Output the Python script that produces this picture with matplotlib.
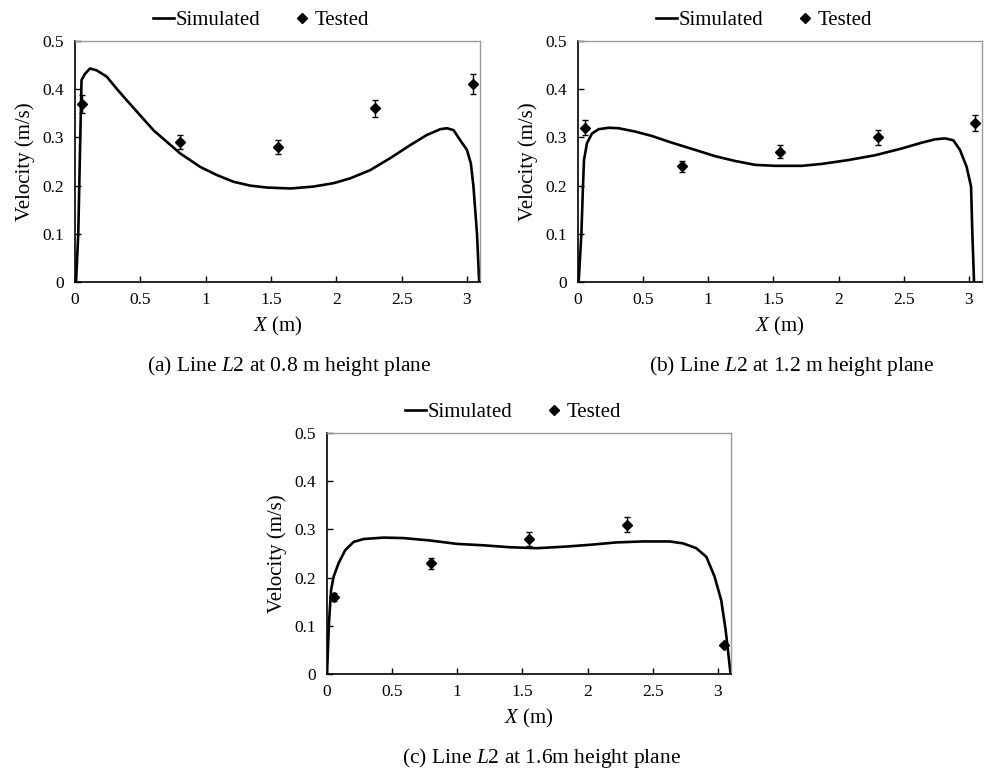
import matplotlib
matplotlib.use("Agg")
import matplotlib.pyplot as plt
from matplotlib.lines import Line2D

plt.rcParams["font.family"] = ["Liberation Serif", "DejaVu Serif"]
plt.rcParams["mathtext.fontset"] = "custom"
plt.rcParams["mathtext.rm"] = "Liberation Serif"
plt.rcParams["mathtext.it"] = "Liberation Serif:italic"

# Measurement positions along line L2 (m)
x_test = [0.05, 0.8, 1.55, 2.3, 3.05]

# 0.8 m height plane
sim_a_x = [0.0, 0.008, 0.025, 0.04, 0.05, 0.077, 0.115, 0.166, 0.243, 0.319, 0.396,
           0.498, 0.6, 0.702, 0.804, 0.957, 1.085, 1.213, 1.34, 1.468, 1.647, 1.825,
           1.979, 2.106, 2.259, 2.413, 2.566, 2.693, 2.796, 2.847, 2.898, 2.949, 3.0,
           3.03, 3.05, 3.077, 3.094]
sim_a_y = [0.0, 0.0, 0.101, 0.294, 0.419, 0.432, 0.443, 0.439, 0.426, 0.401, 0.377,
           0.346, 0.315, 0.291, 0.267, 0.239, 0.222, 0.208, 0.2, 0.196, 0.194, 0.198,
           0.205, 0.215, 0.232, 0.257, 0.284, 0.305, 0.317, 0.319, 0.315, 0.294, 0.274,
           0.246, 0.198, 0.1, 0.0]
test_a = [0.37, 0.29, 0.28, 0.36, 0.41]
err_a = [0.0185, 0.0145, 0.014, 0.018, 0.0205]

# 1.2 m height plane
sim_b_x = [0.0, 0.005, 0.026, 0.038, 0.046, 0.069, 0.107, 0.158, 0.235, 0.312, 0.44,
           0.567, 0.72, 0.9, 1.053, 1.206, 1.36, 1.513, 1.717, 1.871, 2.075, 2.28,
           2.484, 2.637, 2.74, 2.816, 2.88, 2.931, 2.982, 3.016, 3.026, 3.039]
sim_b_y = [0.0, 0.0, 0.1, 0.198, 0.253, 0.288, 0.308, 0.317, 0.32, 0.319, 0.312,
           0.303, 0.289, 0.274, 0.261, 0.251, 0.243, 0.241, 0.241, 0.245, 0.253, 0.263,
           0.277, 0.289, 0.296, 0.298, 0.294, 0.274, 0.239, 0.198, 0.1, 0.0]
test_b = [0.32, 0.24, 0.27, 0.30, 0.33]
err_b = [0.016, 0.012, 0.0135, 0.015, 0.0165]

# 1.6 m height plane
sim_c_x = [0.0, 0.015, 0.031, 0.051, 0.089, 0.14, 0.204, 0.281, 0.434, 0.587, 0.791,
           0.996, 1.2, 1.404, 1.608, 1.813, 2.017, 2.221, 2.425, 2.63, 2.732, 2.834,
           2.911, 2.974, 3.025, 3.059, 3.097]
sim_c_y = [0.0, 0.105, 0.174, 0.202, 0.23, 0.257, 0.274, 0.28, 0.283, 0.282, 0.277,
           0.27, 0.267, 0.263, 0.261, 0.264, 0.268, 0.273, 0.275, 0.275, 0.271, 0.261,
           0.243, 0.202, 0.153, 0.091, 0.0]
test_c = [0.16, 0.23, 0.28, 0.31, 0.06]
err_c = [0.008, 0.0115, 0.014, 0.0155, 0.003]

captions = ["(a) Line $\\mathit{L2}$ at 0.8 m height plane",
            "(b) Line $\\mathit{L2}$ at 1.2 m height plane",
            "(c) Line $\\mathit{L2}$ at 1.6m height plane"]
x_ticks = [0, 0.5, 1, 1.5, 2, 2.5, 3]
x_tick_labels = ["0", "0.5", "1", "1.5", "2", "2.5", "3"]
y_ticks = [0, 0.1, 0.2, 0.3, 0.4, 0.5]
y_tick_labels = ["0", "0.1", "0.2", "0.3", "0.4", "0.5"]

W, H = 984, 777
fig = plt.figure(figsize=(W / 100, H / 100), dpi=100)


def rect(left, top, right, bottom):
    return [left / W, 1 - bottom / H, (right - left) / W, (bottom - top) / H]


panels = [
    (rect(75, 41, 480, 282), sim_a_x, sim_a_y, test_a, err_a, captions[0]),
    (rect(578, 41, 982, 282), sim_b_x, sim_b_y, test_b, err_b, captions[1]),
    (rect(327, 433, 731, 674), sim_c_x, sim_c_y, test_c, err_c, captions[2]),
]

for pos, sx, sy, ty, te, cap in panels:
    ax = fig.add_axes(pos)
    ax.plot(sx, sy, color="black", lw=1.9, solid_joinstyle="round")
    ax.errorbar(x_test, ty, yerr=te, fmt="D", color="black", ms=5.5,
                ecolor="black", elinewidth=1.0, capsize=2.5, capthick=1.0)
    ax.set_xlim(0, 3.1)
    ax.set_ylim(0, 0.5)
    ax.set_xticks(x_ticks)
    ax.set_xticklabels(x_tick_labels)
    ax.set_yticks(y_ticks)
    ax.set_yticklabels(y_tick_labels)
    ax.tick_params(direction="in", length=4, width=1.0, labelsize=12.5,
                   colors="black", pad=7)
    ax.tick_params(axis="y", pad=8)
    for side in ("left", "bottom"):
        ax.spines[side].set_color("black")
        ax.spines[side].set_linewidth(1.2)
    for side in ("top", "right"):
        ax.spines[side].set_color("#9a9a9a")
        ax.spines[side].set_linewidth(1.0)
    ax.set_xlabel("$X$ (m)", fontsize=15, labelpad=5)
    ax.set_ylabel("Velocity (m/s)", fontsize=15, labelpad=5)

    handles = [Line2D([], [], color="black", lw=1.9),
               Line2D([], [], color="black", marker="D", ls="none", ms=5.5)]
    ax.legend(handles, ["Simulated", "Tested"], ncol=2, frameon=False,
              loc="center", bbox_to_anchor=(0.46, 1.085), fontsize=15,
              handlelength=1.0, handletextpad=0.1, columnspacing=1.5,
              borderaxespad=0.0, borderpad=0.0)
    ax.text(0.53, -0.3, cap, transform=ax.transAxes, ha="center", va="top",
            fontsize=15.5)

fig.savefig("out.png", dpi=100, facecolor="white")
